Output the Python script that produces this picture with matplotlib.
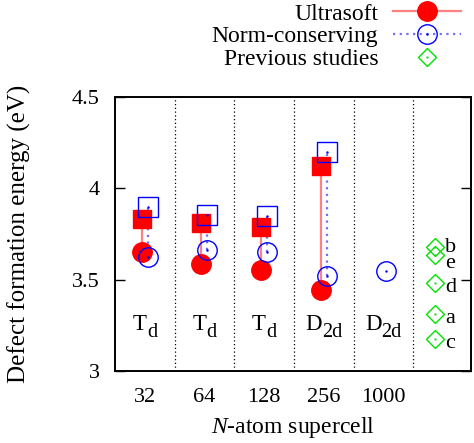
import numpy as np
import matplotlib
matplotlib.use('Agg')
import matplotlib.pyplot as plt
from matplotlib.lines import Line2D
from matplotlib.legend_handler import HandlerTuple

plt.rcParams['font.family'] = ['Liberation Serif', 'DejaVu Serif']
plt.rcParams['mathtext.fontset'] = 'custom'
plt.rcParams['mathtext.rm'] = 'Liberation Serif'
plt.rcParams['mathtext.it'] = 'Liberation Serif:italic'
plt.rcParams['font.size'] = 16

# data
supercells = ['32', '64', '128', '256', '1000']
symmetry = ['T', 'T', 'T', 'D', 'D']
symmetry_sub = ['d', 'd', 'd', '2d', '2d']
us_square = [3.83, 3.81, 3.79, 4.125]
us_circle = [3.65, 3.585, 3.555, 3.445]
nc_square = [3.90, 3.855, 3.85, 4.20]
nc_circle = [3.625, 3.66, 3.65, 3.52, 3.545]
prev_labels = ['b', 'e', 'd', 'a', 'c']
prev_values = [3.68, 3.635, 3.48, 3.31, 3.175]

red = '#ff0000'
red_line = '#ff8080'
blue = '#0000ff'
blue_line = '#7070ff'
green = '#00e000'

fig = plt.figure(figsize=(4.74, 4.43), dpi=100)
ax = fig.add_axes([115/474, 1-371/443, (471-115)/474, (371-97)/443])

x = np.arange(1, len(supercells) + 1)
xu = x[:len(us_square)] - 0.05
xn = x + 0.05

# column separators
for xs in np.arange(1.5, 6, 1.0):
    ax.axvline(xs, color='black', lw=0.9, ls=(0, (1, 2)), zorder=1)

# connecting lines
ax.vlines(xu, us_circle, us_square, color=red_line, lw=1.6, zorder=2)
ax.vlines(xn[:len(nc_square)], nc_circle[:len(nc_square)], nc_square,
          color=blue_line, lw=1.6, linestyles=(0, (1, 2)), zorder=2)

# ultrasoft
ax.plot(xu, us_square, 's', ms=13, color=red, zorder=3)
ax.plot(xu, us_circle, 'o', ms=14, color=red, zorder=3)
# norm-conserving
ax.plot(xn[:len(nc_square)], nc_square, 's', ms=14, mfc='none', mec=blue, mew=1.0, zorder=4)
ax.plot(xn, nc_circle, 'o', ms=14, mfc='none', mec=blue, mew=1.0, zorder=4)
ax.plot(xn, nc_circle, '.', ms=1.5, color=blue, zorder=4)
ax.plot(xn[:len(nc_square)], nc_square, '.', ms=1.5, color=blue, zorder=4)

# previous studies
xp = 5.87
ax.plot([xp]*len(prev_values), prev_values, 'D', ms=9, mfc='none', mec=green, mew=1.0, zorder=4)
ax.plot([xp]*len(prev_values), prev_values, '.', ms=1.2, color=green, zorder=4)
for lab, v in zip(prev_labels, prev_values):
    dy = -6.5
    if lab == 'b':
        dy = -3.5
    elif lab == 'e':
        dy = -9
    ax.annotate(lab, (xp, v), xytext=(7, dy), textcoords='offset points',
                ha='left', va='baseline', fontsize=16)

# symmetry labels (main letter + subscript)
sym_texts = []
for xi, s, sub in zip(x, symmetry, symmetry_sub):
    tm = ax.annotate(s, (xi, 3.224), xytext=(0, 0), textcoords='offset pixels',
                     ha='right', va='baseline', fontsize=16.5)
    ts = ax.annotate(sub, (xi, 3.224), xytext=(0, -7), textcoords='offset pixels',
                     ha='left', va='baseline', fontsize=14.5)
    sym_texts.append((tm, ts))

ax.set_xlim(0.5, 6.47)
ax.set_ylim(3, 4.5)
ax.set_xticks(x)
ax.set_xticklabels(supercells)
ax.set_yticks([3, 3.5, 4, 4.5])
ax.set_yticklabels(['3', '3.5', '4', '4.5'])
ax.tick_params(axis='x', length=0, pad=12, labelsize=16)
ax.tick_params(axis='y', direction='in', length=7, width=1, pad=11, labelsize=16,
               right=True)
for sp in ax.spines.values():
    sp.set_linewidth(1.4)

ax.set_xlabel('$N$-atom supercell', fontsize=17, labelpad=6)
ax.set_ylabel('Defect formation energy (eV)', fontsize=18)
ax.yaxis.set_label_coords(-0.235, 0.5)

dot_b = Line2D([], [], ls='none', marker='.', ms=1.5, color=blue)
dot_g = Line2D([], [], ls='none', marker='.', ms=1.2, color=green)
h_us = Line2D([], [], color=red_line, lw=1.6, marker='o', ms=14, mfc=red, mec=red)
h_nc = (Line2D([], [], color=blue_line, lw=1.6, ls=(0, (1, 2)), marker='o', ms=14,
               mfc='none', mec=blue, mew=1.0), dot_b)
h_prev = (Line2D([], [], ls='none', marker='D', ms=9, mfc='none', mec=green, mew=1.0), dot_g)

fig.legend([h_us, h_nc, h_prev], ['Ultrasoft', 'Norm-conserving', 'Previous studies'],
           loc='upper right', bbox_to_anchor=(461/474, 1-3/443), frameon=False,
           markerfirst=False, numpoints=1, handlelength=2.9, handletextpad=0.6,
           labelspacing=0.05, borderpad=0, borderaxespad=0, fontsize=17,
           handler_map={tuple: HandlerTuple(ndivide=1, pad=0)})

# center each symmetry label as a whole on its column
fig.canvas.draw()
r = fig.canvas.get_renderer()
for tm, ts in sym_texts:
    wm = tm.get_window_extent(r).width
    wsub = ts.get_window_extent(r).width
    shift = (wm - wsub) / 2
    tm.xyann = (shift, 0)
    ts.xyann = (shift, -7)

fig.savefig('out.png', dpi=100)
